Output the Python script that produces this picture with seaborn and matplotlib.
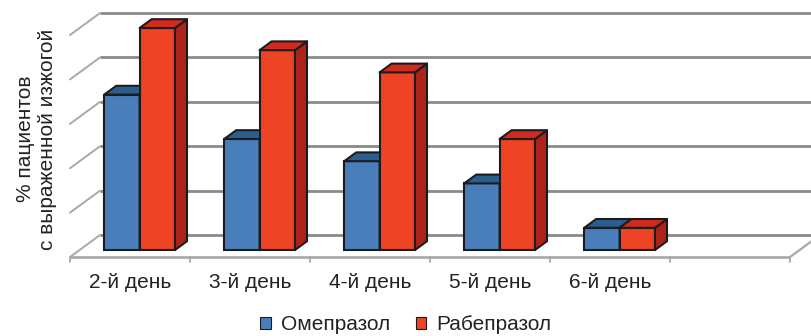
import matplotlib
matplotlib.use("Agg")
import matplotlib.pyplot as plt
from matplotlib.patches import Polygon
import matplotlib.transforms as mtransforms
import pandas as pd
import seaborn as sns

# ---- data -------------------------------------------------------------
days = ["2-й день", "3-й день", "4-й день", "5-й день", "6-й день"]
omeprazole = [35, 25, 20, 15, 5]
rabeprazole = [50, 45, 40, 25, 5]
series_names = ["Омепразол", "Рабепразол"]
grid_levels = [0, 10, 20, 30, 40, 50]
y_label = "% пациентов\nс выраженной изжогой"

# ---- styling ------------------------------------------------------------
front_colors = ["#4A7EBB", "#EE4325"]
top_colors = ["#2C5E8D", "#D32A1F"]
side_colors = ["#2A5480", "#AE2219"]
edge_color = "#1c1c1c"
grid_color = "#8a8a8a"
wall_color = "#a8a8a8"
FONT_SIZE = 15

DPI = 100
# oblique depth of the floor, in pixels (right, up)
DEPTH = (30.0, 22.0)
FRONT_FRAC = -0.32   # floor front edge relative to the bar faces
BACK_FRAC = 0.68     # back wall relative to the bar faces
BAR_FRAC = 0.40      # depth of a bar

df = pd.DataFrame({
    "day": days * 2,
    "value": omeprazole + rabeprazole,
    "drug": [series_names[0]] * len(days) + [series_names[1]] * len(days),
})
slots = days + [""]  # an empty slot closes the floor on the right

sns.set_theme(style="white")
plt.rcParams["font.family"] = ["Liberation Sans", "DejaVu Sans"]
plt.rcParams["text.color"] = "#222222"

fig = plt.figure(figsize=(8.12, 3.36), dpi=DPI)
ax = fig.add_axes([79.6 / 812, 86 / 336, 720 / 812, 222 / 336])
ax.patch.set_alpha(0)

sns.barplot(
    data=df, x="day", y="value", hue="drug",
    order=slots, hue_order=series_names, palette=front_colors,
    width=0.59, saturation=1, errorbar=None,
    edgecolor=edge_color, linewidth=1.5, ax=ax,
)
ax.set_xlim(-0.5, len(slots) - 0.5)
ax.set_ylim(grid_levels[0], grid_levels[-1])

# pixel -> data scale
o = ax.transData.transform((0, 0))
px_x = ax.transData.transform((1, 0))[0] - o[0]
px_y = ax.transData.transform((0, 1))[1] - o[1]


def depth(frac):
    return DEPTH[0] * frac / px_x, DEPTH[1] * frac / px_y


fx, fy = depth(FRONT_FRAC)
bx, by = depth(BACK_FRAC)
dx, dy = depth(BAR_FRAC)
x_lo, x_hi = ax.get_xlim()

# back wall grid lines
for v in grid_levels:
    ax.plot([x_lo + bx, x_hi + bx], [v + by, v + by], color=grid_color,
            lw=2.0, zorder=1, clip_on=False, solid_capstyle="butt")
    # left wall lines
    ax.plot([x_lo + fx, x_lo + bx], [v + fy, v + by], color=wall_color,
            lw=1.4, zorder=1, clip_on=False)

# floor: front edge, right edge and slot ticks
ax.plot([x_lo + fx, x_hi + fx], [fy, fy], color=wall_color, lw=1.9,
        zorder=1, clip_on=False, solid_capstyle="butt")
ax.plot([x_hi + fx, x_hi + bx], [fy, by], color=wall_color, lw=1.6,
        zorder=1, clip_on=False)
tick_len = 5.0 / px_y
for k in range(len(slots) + 1):
    xk = x_lo + k + fx
    ax.plot([xk, xk], [fy, fy - tick_len], color=wall_color, lw=1.3,
            zorder=1, clip_on=False)

# 3-D faces of every bar
for hue_idx, container in enumerate(ax.containers):
    for rect in container:
        x0, w, h = rect.get_x(), rect.get_width(), rect.get_height()
        if w <= 0 or h != h:
            continue
        cat = int(round(x0 + w / 2))
        z = 3 + cat * 2 + hue_idx
        rect.set_zorder(z)
        rect.set_clip_on(False)
        side = Polygon([(x0 + w, 0), (x0 + w + dx, dy), (x0 + w + dx, h + dy),
                        (x0 + w, h)], closed=True, facecolor=side_colors[hue_idx],
                       edgecolor=edge_color, lw=1.5, zorder=z, clip_on=False,
                       joinstyle="round")
        top = Polygon([(x0, h), (x0 + w, h), (x0 + w + dx, h + dy),
                       (x0 + dx, h + dy)], closed=True, facecolor=top_colors[hue_idx],
                      edgecolor=edge_color, lw=1.5, zorder=z, clip_on=False,
                      joinstyle="round")
        ax.add_patch(side)
        ax.add_patch(top)

# axes decorations
for spine in ax.spines.values():
    spine.set_visible(False)
ax.set_yticks([])
ax.set_xlabel("")
ax.tick_params(axis="x", length=0, pad=16.5, labelsize=FONT_SIZE, labelcolor="#222222")
shift = mtransforms.ScaledTranslation(DEPTH[0] * FRONT_FRAC / DPI, 0, fig.dpi_scale_trans)
for lbl in ax.get_xticklabels():
    lbl.set_transform(lbl.get_transform() + shift)

ax.set_ylabel(y_label, fontsize=FONT_SIZE, linespacing=1.2, color="#222222")
ax.yaxis.set_label_coords(-0.031, 0.5)

sns.move_legend(
    ax, "lower center", bbox_to_anchor=(0.5, -0.02), bbox_transform=fig.transFigure,
    ncol=2, frameon=False, title=None, fontsize=FONT_SIZE,
    handlelength=0.5, handleheight=0.5, handletextpad=0.5, columnspacing=1.2,
    borderaxespad=0.0,
)
for h in ax.get_legend().legend_handles:
    h.set_edgecolor(edge_color)
    h.set_linewidth(0.8)

fig.savefig("out.png", dpi=DPI)
